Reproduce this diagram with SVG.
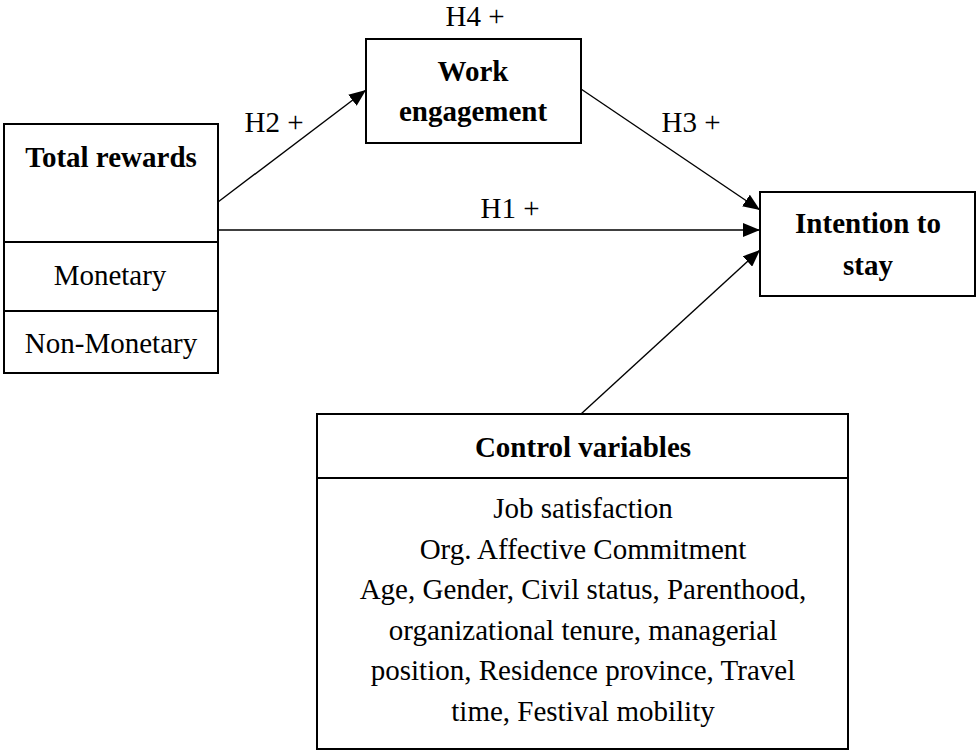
<svg xmlns="http://www.w3.org/2000/svg" width="977" height="752" viewBox="0 0 977 752">
<style>
.box{fill:#fff;stroke:#000;stroke-width:2}
.div{stroke:#000;stroke-width:2}
.t{font-family:"Liberation Serif","Times New Roman",serif;font-size:29px;fill:#000;text-anchor:middle}
.b{font-weight:bold}
.c{stroke:#000;stroke-width:1.4;fill:none;marker-end:url(#ah)}
</style>
<defs>
<marker id="ah" markerUnits="userSpaceOnUse" markerWidth="18" markerHeight="14" refX="17" refY="7" orient="auto">
<path d="M0,0 L17,7 L0,14 z" fill="#000"/>
</marker>
</defs>
<g id="connectors">
<line class="c" x1="218" y1="202" x2="366" y2="90"/>
<line class="c" x1="581" y1="89" x2="760" y2="210"/>
<line class="c" x1="219" y1="230" x2="760" y2="230"/>
<line class="c" x1="581" y1="414" x2="760" y2="250"/>
<text class="t" x="475" y="26">H4 +</text>
<text class="t" x="274" y="132">H2 +</text>
<text class="t" x="691" y="132">H3 +</text>
<text class="t" x="510" y="218">H1 +</text>
</g>
<g id="total-rewards">
<rect class="box" x="4" y="124" width="214" height="249"/>
<line class="div" x1="4" y1="242" x2="218" y2="242"/>
<line class="div" x1="4" y1="311" x2="218" y2="311"/>
<text class="t b" x="111" y="167">Total rewards</text>
<text class="t" x="110" y="285">Monetary</text>
<text class="t" x="111" y="353">Non-Monetary</text>
</g>
<g id="work-engagement">
<rect class="box" x="366" y="39" width="215" height="104"/>
<text class="t b" x="473" y="81">Work</text>
<text class="t b" x="473" y="121">engagement</text>
</g>
<g id="intention-to-stay">
<rect class="box" x="760" y="192" width="215" height="104"/>
<text class="t b" x="868" y="233">Intention to</text>
<text class="t b" x="868" y="275">stay</text>
</g>
<g id="control-variables">
<rect class="box" x="317" y="414" width="531" height="335"/>
<line class="div" x1="317" y1="478" x2="848" y2="478"/>
<text class="t b" x="583" y="457">Control variables</text>
<text class="t" x="583" y="518">Job satisfaction</text>
<text class="t" x="583" y="559">Org. Affective Commitment</text>
<text class="t" x="583" y="599">Age, Gender, Civil status, Parenthood,</text>
<text class="t" x="583" y="640">organizational tenure, managerial</text>
<text class="t" x="583" y="680">position, Residence province, Travel</text>
<text class="t" x="583" y="721">time, Festival mobility</text>
</g>
</svg>
